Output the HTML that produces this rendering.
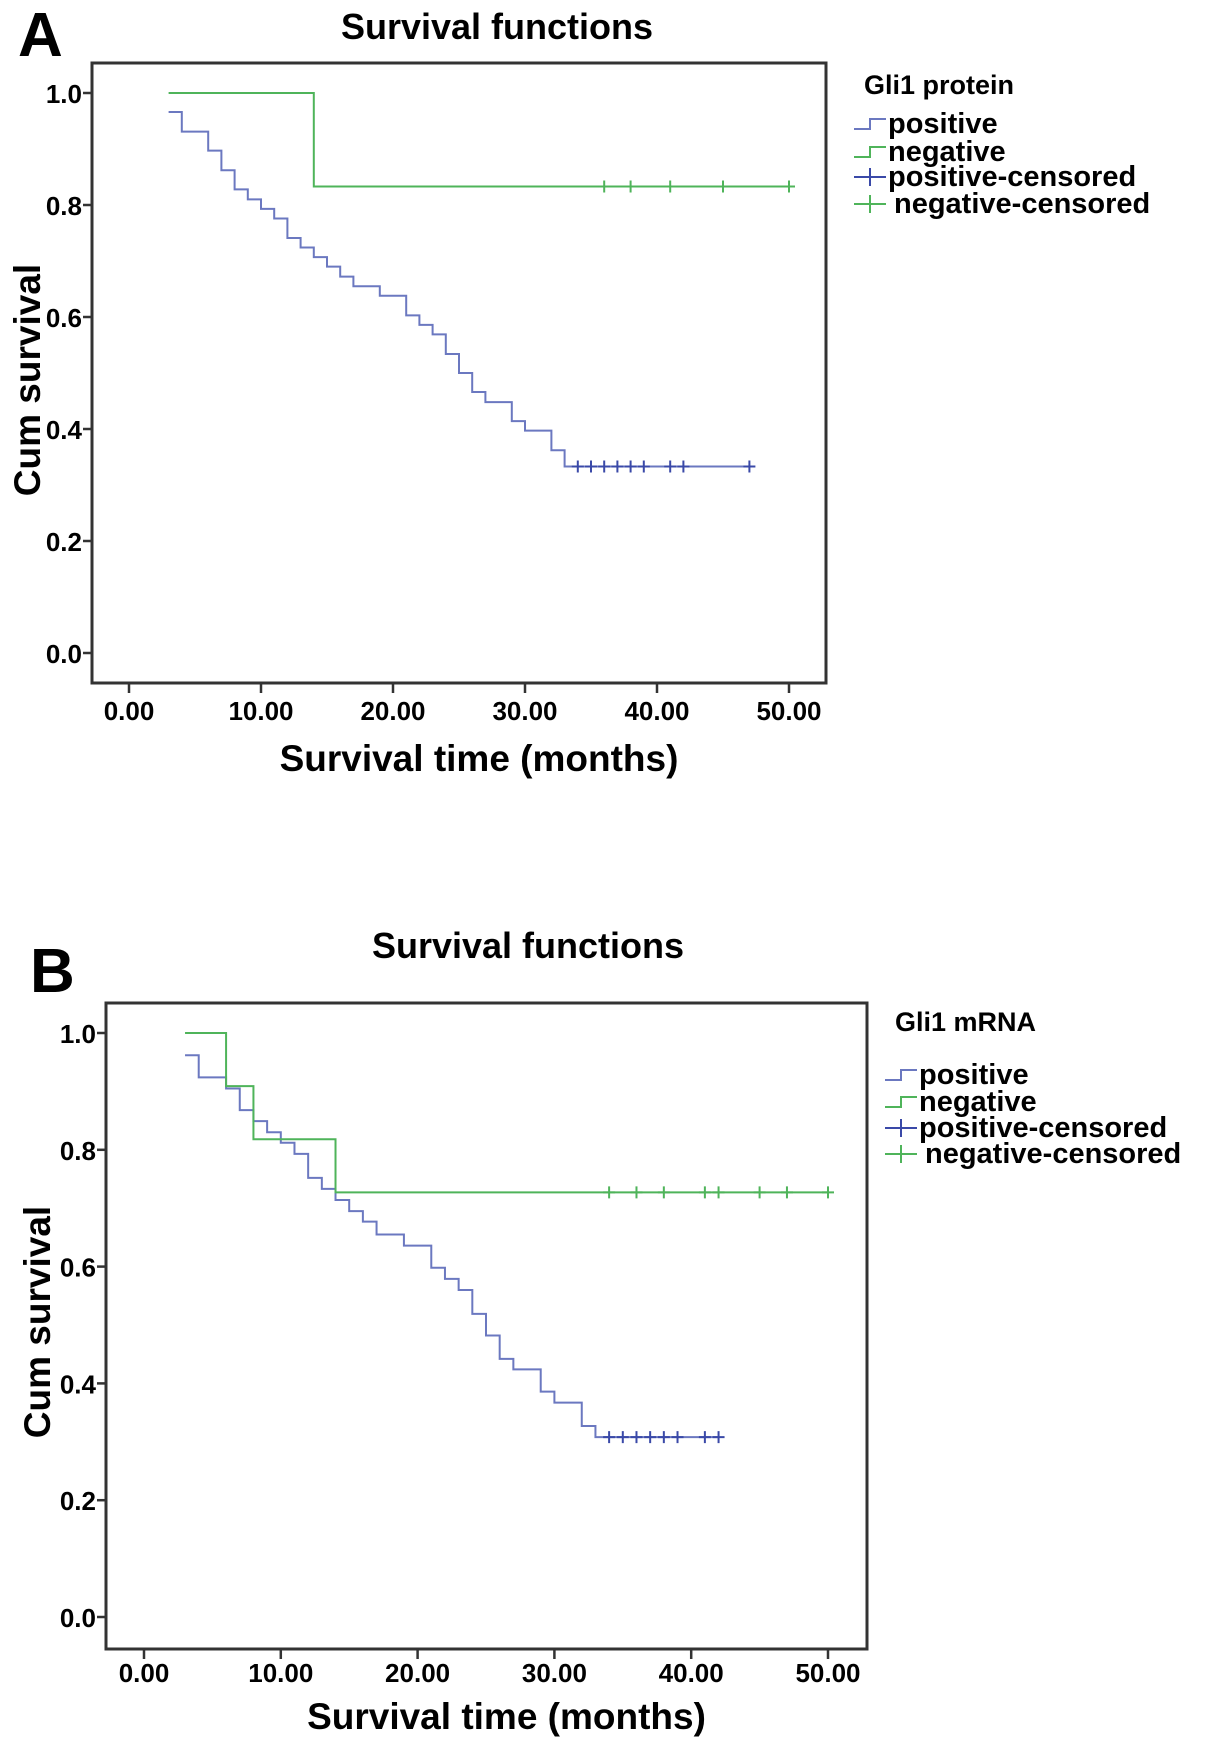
<!DOCTYPE html>
<html><head><meta charset="utf-8"><style>
html,body{margin:0;padding:0;background:#fff;}
svg{display:block;font-family:"Liberation Sans",Arial,sans-serif;font-weight:bold;}
</style></head><body>
<svg id="fig" width="1205" height="1755" viewBox="0 0 1205 1755" xmlns="http://www.w3.org/2000/svg">
<g id="chartA"></g>
<g id="chartB"></g>
</svg>
<script>
// ---- Chart A data (Gli1 protein)
const xTicks = [0, 10, 20, 30, 40, 50];
const xTickLabels = ["0.00", "10.00", "20.00", "30.00", "40.00", "50.00"];
const yTicks = [0, 0.2, 0.4, 0.6, 0.8, 1.0];
const yTickLabels = ["0.0", "0.2", "0.4", "0.6", "0.8", "1.0"];

const aPosEnd = 47;
const aPosTimes = [3, 4, 6, 7, 8, 9, 10, 11, 12, 13, 14, 15, 16, 17, 19, 21, 22, 23, 24, 25, 26, 27, 29, 30, 32, 33];
const aPosValues = [0.966, 0.931, 0.897, 0.862, 0.828, 0.810, 0.793, 0.776, 0.741, 0.724, 0.707, 0.690, 0.672, 0.655, 0.638, 0.603, 0.586, 0.569, 0.534, 0.500, 0.466, 0.448, 0.414, 0.397, 0.362, 0.333];
const aPosCensored = [34, 35, 36, 37, 38, 39, 41, 42, 47];
const aNegEnd = 50;
const aNegTimes = [3, 14];
const aNegValues = [1.0, 0.833];
const aNegCensored = [36, 38, 41, 45, 50];

// ---- Chart B data (Gli1 mRNA)
const bPosEnd = 42;
const bPosTimes = [3, 4, 6, 7, 8, 9, 10, 11, 12, 13, 14, 15, 16, 17, 19, 21, 22, 23, 24, 25, 26, 27, 29, 30, 32, 33];
const bPosValues = [0.962, 0.924, 0.905, 0.868, 0.849, 0.830, 0.812, 0.793, 0.752, 0.733, 0.714, 0.695, 0.677, 0.655, 0.636, 0.598, 0.579, 0.560, 0.519, 0.482, 0.442, 0.424, 0.386, 0.367, 0.327, 0.308];
const bPosCensored = [34, 35, 36, 37, 38, 39, 41, 42];
const bNegEnd = 50;
const bNegTimes = [3, 6, 8, 14];
const bNegValues = [1.0, 0.909, 0.818, 0.727];
const bNegCensored = [34, 36, 38, 41, 42, 45, 47, 50];

const NS = "http://www.w3.org/2000/svg";
const BLUE = "#6b78c0", BLUE_C = "#3a49a8", GREEN = "#4fb45a";

function mk(parent, tag, attrs, text) {
  const el = document.createElementNS(NS, tag);
  for (const k in attrs) el.setAttribute(k, attrs[k]);
  if (text !== undefined) el.textContent = text;
  parent.appendChild(el);
  return el;
}

function drawChart(g, L) {
  const sx = t => L.x0 + (L.x50 - L.x0) * t / 50;
  const sy = v => L.y0 + (L.y1 - L.y0) * v;

  const frame = mk(g, "rect", {x: L.left, y: L.top, width: L.right - L.left, height: L.bottom - L.top, fill: "none", stroke: "#333", "stroke-width": 3});
  
  

  xTicks.forEach((t, i) => {
    const tk = mk(g, "line", {x1: sx(t), x2: sx(t), y1: L.bottom, y2: L.bottom + 10, stroke: "#333", "stroke-width": 2.5});
    
    
    const lb = mk(g, "text", {x: sx(t), y: L.xLabelY, "text-anchor": "middle", "font-size": 26}, xTickLabels[i]);
    
    
  });
  yTicks.forEach((v, i) => {
    const tk = mk(g, "line", {x1: L.left - 9, x2: L.left, y1: sy(v), y2: sy(v), stroke: "#333", "stroke-width": 2.5});
    
    
    const lb = mk(g, "text", {x: L.left - 10, y: sy(v) + 10, "text-anchor": "end", "font-size": 26}, yTickLabels[i]);
    
    
  });

  function stepPath(times, vals, end) {
    let d = "M" + sx(times[0]) + "," + sy(vals[0]);
    for (let i = 1; i < times.length; i++) {
      d += " H" + sx(times[i]) + " V" + sy(vals[i]);
    }
    d += " H" + sx(end);
    return d;
  }
  function lastVal(times, vals, t) {
    let v = vals[0];
    for (let i = 0; i < times.length; i++) if (times[i] <= t) v = vals[i];
    return v;
  }
  const pl = mk(g, "path", {d: stepPath(L.posT, L.posV, L.posEnd), fill: "none", stroke: BLUE, "stroke-width": 2});
  
  
  const nl = mk(g, "path", {d: stepPath(L.negT, L.negV, L.negEnd), fill: "none", stroke: GREEN, "stroke-width": 2});
  
  

  L.posC.forEach(t => {
    const v = lastVal(L.posT, L.posV, t);
    const c = mk(g, "path", {d: "M" + (sx(t) - 6) + "," + sy(v) + " H" + (sx(t) + 6) + " M" + sx(t) + "," + (sy(v) - 6) + " V" + (sy(v) + 6), stroke: BLUE_C, "stroke-width": 2});
    
    
  });
  L.negC.forEach(t => {
    const v = lastVal(L.negT, L.negV, t);
    const c = mk(g, "path", {d: "M" + (sx(t) - 6) + "," + sy(v) + " H" + (sx(t) + 6) + " M" + sx(t) + "," + (sy(v) - 6) + " V" + (sy(v) + 6), stroke: GREEN, "stroke-width": 2});
    
    
  });

  const ttl = mk(g, "text", {x: L.titleX, y: L.titleY, "text-anchor": "middle", "font-size": 36}, "Survival functions");
  
  
  const pan = mk(g, "text", {x: L.panelX, y: L.panelY, "font-size": 62}, L.panel);
  
  
  const xt = mk(g, "text", {x: (L.left + L.right) / 2 + 20, y: L.xTitleY, "text-anchor": "middle", "font-size": 37}, "Survival time (months)");
  
  
  const yt = mk(g, "text", {x: 0, y: 0, "text-anchor": "middle", "font-size": 37, transform: "translate(" + L.yTitleX + "," + L.yTitleY + ") rotate(-90)"}, "Cum survival");
  
  

  const lt = mk(g, "text", {x: L.legX + 10, y: L.legTitleY, "font-size": 27}, L.legTitle);
  
  
  const names = ["positive", "negative", "positive-censored", "negative-censored"];
  const cols = [BLUE, GREEN, BLUE_C, GREEN];
  names.forEach((n, i) => {
    const y = L.legY[i];
    const sym = i < 2
      ? "M" + L.legX + "," + (y - 4) + " H" + (L.legX + 16) + " V" + (y - 14) + " H" + (L.legX + 32)
      : "M" + L.legX + "," + (y - 9) + " H" + (L.legX + 32) + " M" + (L.legX + 16) + "," + (y - 18) + " V" + y;
    const s = mk(g, "path", {d: sym, fill: "none", stroke: cols[i], "stroke-width": 2});
    
    
    const t = mk(g, "text", {x: L.legX + (i === 3 ? 40 : 34), y: y, "font-size": 29}, n);
    
    
  });
}

drawChart(document.getElementById("chartA"), {
  left: 92, right: 826, top: 63, bottom: 683, x0: 129, x50: 789, y1: 93, y0: 653,
  xLabelY: 720, xTitleY: 771, yTitleX: 40, yTitleY: 380,
  titleX: 497, titleY: 39, panel: "A", panelX: 18, panelY: 56,
  legX: 854, legTitle: "Gli1 protein", legTitleY: 94, legY: [133, 161, 186, 213],
  posT: aPosTimes, posV: aPosValues, posEnd: aPosEnd, posC: aPosCensored,
  negT: aNegTimes, negV: aNegValues, negEnd: aNegEnd, negC: aNegCensored
});
drawChart(document.getElementById("chartB"), {
  left: 106, right: 867, top: 1003, bottom: 1649, x0: 144, x50: 828, y1: 1033, y0: 1617,
  xLabelY: 1682, xTitleY: 1729, yTitleX: 50, yTitleY: 1322,
  titleX: 528, titleY: 958, panel: "B", panelX: 30, panelY: 992,
  legX: 885, legTitle: "Gli1 mRNA", legTitleY: 1031, legY: [1084, 1111, 1137, 1163],
  posT: bPosTimes, posV: bPosValues, posEnd: bPosEnd, posC: bPosCensored,
  negT: bNegTimes, negV: bNegValues, negEnd: bNegEnd, negC: bNegCensored
});
</script>
</body></html>
